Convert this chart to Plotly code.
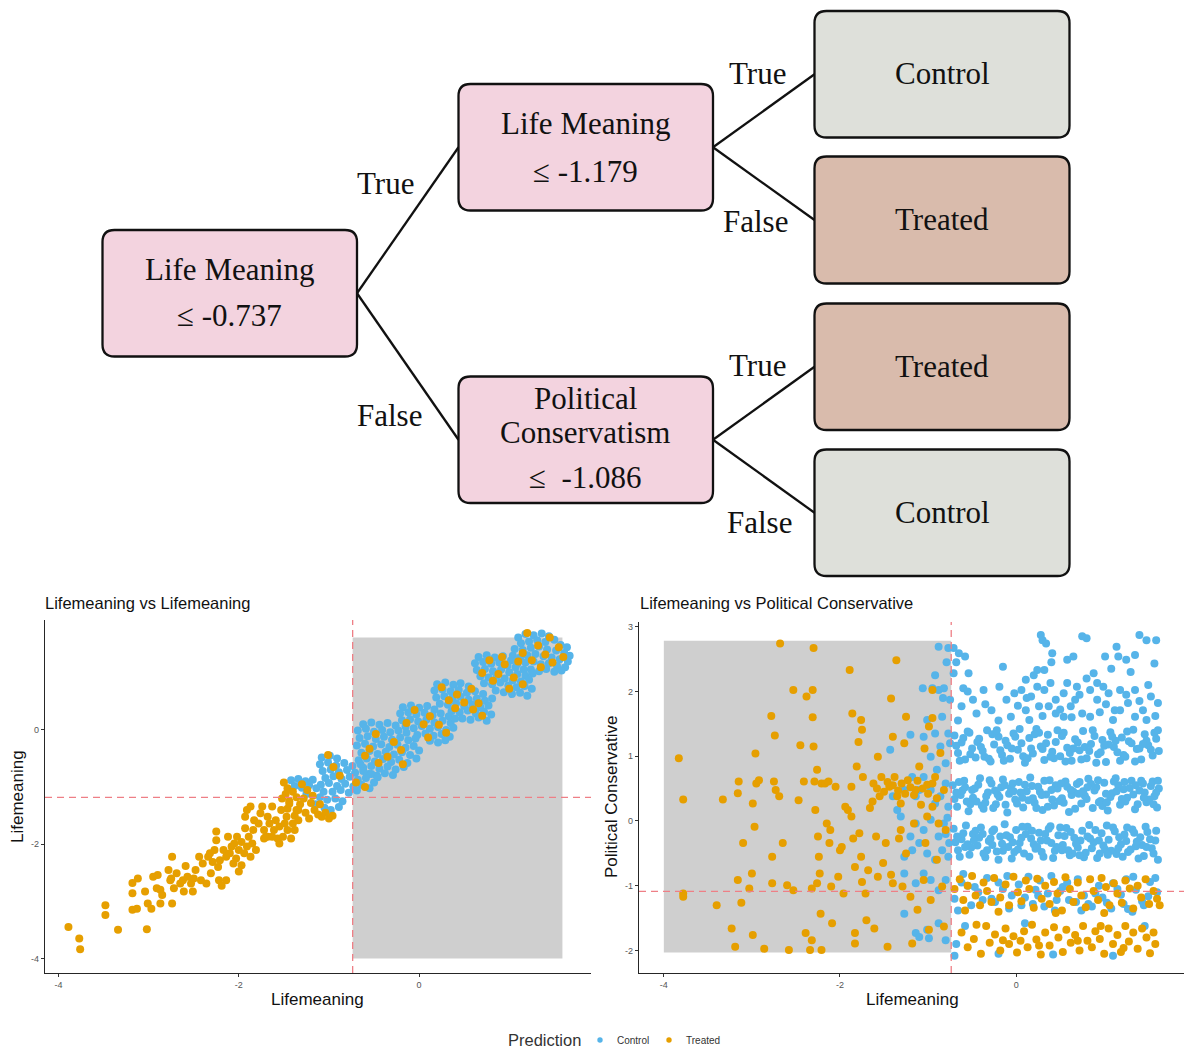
import plotly.graph_objects as go

W, H = 1184, 1051

# ---------------------------------------------------------------- tree splits
SPLIT_ROOT = -0.737   # Life Meaning (root)
SPLIT_LM = -1.179     # Life Meaning (True branch)
SPLIT_PC = -1.086     # Political Conservatism (False branch)

# ---------------------------------------------------------------- scatter data
# Lifemeaning (x) vs Lifemeaning (y), predicted Control
LEFT_CONTROL = [
    (1.10, 1.62), (1.18, 1.68), (1.27, 1.66), (1.36, 1.69), (1.44, 1.64), (1.13, 1.52), (1.22, 1.55), (1.31, 1.57),
    (1.40, 1.54), (1.50, 1.58), (1.57, 1.49), (1.64, 1.45), (1.06, 1.42), (1.15, 1.40), (1.24, 1.44), (1.33, 1.46),
    (1.42, 1.41), (1.52, 1.39), (1.61, 1.35), (1.67, 1.30), (1.04, 1.30), (1.12, 1.27), (1.20, 1.31), (1.29, 1.33),
    (1.38, 1.29), (1.47, 1.27), (1.56, 1.24), (1.65, 1.20), (1.09, 1.16), (1.18, 1.18), (1.27, 1.20), (1.35, 1.15),
    (1.44, 1.17), (1.53, 1.12), (1.62, 1.10), (1.24, 1.06), (1.33, 1.03), (1.41, 1.07), (1.50, 1.02), (1.58, 1.04),
    (0.66, 1.28), (0.75, 1.31), (0.84, 1.27), (0.93, 1.29), (1.02, 1.22), (0.62, 1.17), (0.71, 1.19), (0.80, 1.16),
    (0.89, 1.18), (0.98, 1.13), (1.07, 1.10), (1.16, 1.06), (0.64, 1.05), (0.73, 1.07), (0.82, 1.03), (0.91, 1.06),
    (1.00, 1.01), (1.09, 0.98), (1.18, 0.95), (1.26, 0.99), (0.68, 0.94), (0.77, 0.92), (0.86, 0.95), (0.95, 0.90),
    (1.04, 0.87), (1.13, 0.85), (1.22, 0.88), (0.72, 0.82), (0.81, 0.80), (0.90, 0.83), (0.99, 0.78), (1.08, 0.75),
    (1.17, 0.77), (1.25, 0.72), (0.85, 0.69), (0.94, 0.66), (1.03, 0.63), (1.12, 0.65), (1.20, 0.60),
    (0.20, 0.80), (0.29, 0.83), (0.38, 0.79), (0.46, 0.82), (0.55, 0.76), (0.17, 0.69), (0.26, 0.71), (0.35, 0.68),
    (0.44, 0.70), (0.53, 0.65), (0.62, 0.68), (0.71, 0.63), (0.19, 0.57), (0.28, 0.59), (0.37, 0.56), (0.46, 0.58),
    (0.55, 0.53), (0.64, 0.55), (0.73, 0.51), (0.81, 0.55), (0.23, 0.46), (0.32, 0.44), (0.41, 0.47), (0.50, 0.42),
    (0.59, 0.44), (0.68, 0.40), (0.77, 0.43), (0.36, 0.33), (0.45, 0.31), (0.54, 0.34), (0.63, 0.29), (0.72, 0.32),
    (0.80, 0.27), (0.48, 0.20), (0.57, 0.18), (0.66, 0.22), (0.75, 0.16),
    (-0.18, 0.40), (-0.09, 0.43), (0.00, 0.39), (0.09, 0.42), (0.17, 0.36), (-0.21, 0.29), (-0.12, 0.31), (-0.03, 0.27),
    (0.06, 0.30), (0.15, 0.26), (0.24, 0.29), (0.33, 0.24), (-0.19, 0.17), (-0.10, 0.19), (-0.01, 0.15), (0.08, 0.18),
    (0.17, 0.13), (0.26, 0.16), (0.35, 0.12), (0.40, 0.20), (-0.15, 0.06), (-0.06, 0.03), (0.03, 0.07), (0.12, 0.02),
    (0.21, 0.05), (0.30, 0.00), (0.38, 0.04), (-0.02, -0.09), (0.07, -0.06), (0.16, -0.10), (0.25, -0.07), (0.34, -0.12),
    (0.12, -0.19), (0.21, -0.22), (0.29, -0.18),
    (-0.62, 0.10), (-0.53, 0.13), (-0.44, 0.09), (-0.35, 0.12), (-0.26, 0.08), (-0.68, -0.01), (-0.59, 0.02), (-0.50, -0.03),
    (-0.41, 0.00), (-0.32, -0.04), (-0.23, -0.01), (-0.14, -0.05), (-0.66, -0.14), (-0.57, -0.11), (-0.48, -0.16), (-0.39, -0.12),
    (-0.30, -0.17), (-0.21, -0.13), (-0.12, -0.18), (-0.04, -0.15), (-0.69, -0.27), (-0.60, -0.24), (-0.51, -0.29), (-0.42, -0.25),
    (-0.33, -0.30), (-0.24, -0.26), (-0.15, -0.31), (-0.06, -0.28), (0.00, -0.36), (-0.64, -0.40), (-0.55, -0.37), (-0.46, -0.42),
    (-0.37, -0.38), (-0.28, -0.43), (-0.19, -0.39), (-0.10, -0.44), (-0.03, -0.50), (-0.67, -0.53), (-0.58, -0.50), (-0.49, -0.55),
    (-0.40, -0.51), (-0.31, -0.56), (-0.22, -0.52), (-0.13, -0.58), (-0.62, -0.66), (-0.53, -0.63), (-0.44, -0.68), (-0.35, -0.64),
    (-0.26, -0.69), (-0.17, -0.65), (-0.56, -0.77), (-0.47, -0.80), (-0.38, -0.76), (-0.29, -0.79),
    (-1.08, -0.48), (-0.99, -0.45), (-0.91, -0.50), (-1.10, -0.60), (-1.01, -0.57), (-0.92, -0.62), (-0.83, -0.58), (-0.74, -0.63),
    (-0.65, -0.60), (-1.07, -0.72), (-0.98, -0.69), (-0.89, -0.74), (-0.80, -0.70), (-0.71, -0.75), (-0.62, -0.72), (-0.53, -0.77),
    (-0.46, -0.83), (-1.04, -0.84), (-0.95, -0.81), (-0.86, -0.86), (-0.77, -0.82), (-0.68, -0.87), (-0.59, -0.84), (-0.50, -0.92),
    (-1.09, -0.96), (-1.00, -0.93), (-0.91, -0.98), (-0.82, -0.94), (-0.73, -0.99), (-0.64, -0.96), (-0.55, -1.02), (-0.96, -1.08),
    (-0.87, -1.05), (-0.78, -1.10), (-0.69, -1.06), (-0.93, -1.20), (-0.85, -1.25), (-0.89, -1.35),
    (-1.42, -0.88), (-1.34, -0.86), (-1.26, -0.90), (-1.18, -0.87), (-1.38, -0.98), (-1.30, -1.01), (-1.22, -0.97), (-1.14, -1.02),
    (-1.06, -1.08), (-1.10, -1.18), (-1.02, -1.22), (-1.15, -1.30), (-1.05, -1.36), (-0.98, -1.40), (-1.25, -1.12),
]

# Lifemeaning (x) vs Lifemeaning (y), predicted Treated
LEFT_TREATED = [
    (1.20, 1.70), (1.45, 1.62), (1.32, 1.48), (1.55, 1.45), (1.40, 1.32), (1.25, 1.22), (1.48, 1.18), (1.35, 1.10),
    (1.60, 1.28), (1.15, 1.35), (0.78, 1.22), (0.95, 1.15), (1.10, 1.20), (0.70, 1.00), (0.88, 0.98), (1.05, 0.92),
    (0.82, 0.86), (1.00, 0.72), (1.15, 0.80), (0.92, 1.28), (0.25, 0.75), (0.42, 0.62), (0.58, 0.72), (0.33, 0.52),
    (0.50, 0.48), (0.66, 0.47), (0.40, 0.38), (0.60, 0.36), (0.70, 0.25), (-0.05, 0.35), (0.12, 0.24), (-0.14, 0.12),
    (0.05, 0.10), (0.22, 0.09), (0.30, -0.05), (0.10, -0.13), (-0.48, -0.07), (-0.28, -0.21), (-0.55, -0.33), (-0.35, -0.47),
    (-0.18, -0.60), (-0.45, -0.58), (-0.60, -0.45), (-0.20, -0.35), (-1.01, -0.44), (-0.88, -0.80), (-0.70, -0.92), (-0.95, -0.65),
    (-0.60, -1.00),
    (-1.50, -0.92), (-1.46, -1.02), (-1.48, -1.12), (-1.40, -1.08), (-1.36, -1.18), (-1.44, -1.25), (-1.32, -1.30), (-1.28, -1.20),
    (-1.24, -1.05), (-1.20, -1.28), (-1.16, -1.40), (-1.12, -1.48), (-1.08, -1.52), (-1.00, -1.55), (-0.96, -1.50), (-1.04, -1.45),
    (-1.18, -1.15), (-1.34, -1.40), (-1.26, -1.45), (-1.38, -1.50), (-1.46, -1.38), (-1.30, -0.95), (-1.52, -1.20), (-1.22, -1.55),
    (-1.10, -1.30),
    (-3.89, -3.45), (-3.77, -3.65), (-3.76, -3.84), (-3.48, -3.07), (-3.48, -3.24), (-3.34, -3.50), (-3.18, -2.68), (-3.18, -2.86),
    (-3.18, -3.15), (-3.12, -2.60), (-3.13, -3.13), (-3.04, -2.83), (-3.02, -3.49), (-3.01, -3.04), (-2.97, -3.13), (-2.95, -2.57),
    (-2.91, -2.77), (-2.90, -2.54), (-2.87, -2.80), (-2.87, -3.04), (-2.78, -2.45), (-2.76, -2.63), (-2.74, -2.22), (-2.74, -3.04),
    (-2.72, -2.77), (-2.69, -2.51), (-2.65, -2.69), (-2.62, -2.63), (-2.61, -2.83), (-2.59, -2.38), (-2.57, -2.57), (-2.53, -2.69),
    (-2.50, -2.60), (-2.48, -2.45), (-2.44, -2.22), (-2.42, -2.63), (-2.40, -2.34), (-2.36, -2.69), (-2.34, -2.22), (-2.32, -2.16),
    (-2.31, -2.51), (-2.29, -2.31), (-2.27, -2.10), (-2.25, -1.78), (-2.25, -1.93), (-2.23, -2.40), (-2.22, -2.63), (-2.21, -2.28),
    (-2.19, -2.73), (-2.17, -2.10), (-2.14, -2.22), (-2.12, -1.87), (-2.10, -2.16), (-2.08, -2.04), (-2.06, -2.34), (-2.05, -1.99),
    (-2.03, -2.25), (-2.02, -1.87), (-2.00, -2.10), (-1.97, -2.37), (-1.97, -1.96), (-1.94, -2.16), (-1.93, -1.72), (-1.91, -2.04),
    (-1.89, -1.87), (-1.87, -2.22), (-1.85, -1.99), (-1.84, -1.75), (-1.83, -1.58), (-1.81, -2.10), (-1.93, -1.52), (-1.91, -1.40),
    (-1.87, -1.34), (-1.78, -1.64), (-1.76, -1.46), (-1.72, -1.75), (-1.70, -1.87), (-1.68, -1.52), (-1.66, -1.64), (-1.63, -1.34),
    (-1.61, -1.75), (-1.59, -1.58), (-1.57, -1.90), (-1.55, -1.69), (-1.53, -1.40), (-1.51, -1.87), (-1.49, -1.64), (-1.47, -1.52),
    (-1.46, -1.75), (-1.44, -1.29), (-1.42, -1.90), (-1.40, -1.64), (-1.38, -1.75), (-1.36, -1.40), (-1.34, -1.58), (-1.68, -1.87),
    (-1.74, -1.34), (-2.14, -2.63), (-2.00, -2.48), (-2.51, -2.83), (-2.75, -2.60), (-2.85, -2.89), (-1.72, -1.90), (-1.63, -1.87),
    (-1.55, -1.99),
]

# Lifemeaning (x) vs Political Conservative (y), predicted Control
RIGHT_CONTROL = [
    (-0.71, 2.67), (-0.65, 2.59), (-0.58, 2.54), (-0.54, 2.28), (-0.15, 2.38), (0.28, 2.87), (0.30, 2.79), (0.34, 2.74),
    (0.41, 2.59), (0.75, 2.85), (0.80, 2.82), (0.58, 2.49), (0.65, 2.54), (0.88, 2.28), (1.01, 2.54), (1.14, 2.69),
    (1.16, 2.54), (1.25, 2.49), (1.40, 2.87), (1.48, 2.79), (1.57, 2.43), (1.59, 2.79), (1.35, 2.56), (0.32, 2.33),
    (0.24, 2.33), (0.11, 2.18), (-0.19, 2.07), (-0.37, 2.02), (-0.49, 1.87), (-0.62, 1.77), (-0.71, 2.28), (-0.68, 2.45),
    (-0.60, 2.05), (-0.66, 1.55),
    (-0.02, 1.97), (0.06, 2.02), (0.17, 1.92), (0.24, 2.07), (0.32, 2.02), (0.39, 2.13), (0.45, 1.87), (0.54, 1.97),
    (0.62, 1.77), (0.69, 2.07), (0.75, 1.66), (0.84, 2.02), (0.92, 1.87), (0.99, 2.07), (1.05, 1.97), (1.12, 1.71),
    (1.18, 2.02), (1.27, 1.82), (1.35, 2.02), (1.44, 1.71), (1.53, 1.92), (1.61, 1.82), (0.26, 1.77), (0.11, 1.71),
    (-0.11, 1.87), (-0.28, 1.71), (-0.45, 1.66), (0.54, 1.61), (0.84, 1.61), (1.10, 1.56), (1.48, 1.56), (1.35, 1.61),
    (0.58, 2.13), (0.92, 2.13), (-0.06, 1.61), (0.45, 1.66), (0.37, 1.77), (0.15, 1.56), (0.67, 1.87), (1.18, 1.71),
    (0.02, 1.78), (0.20, 2.25), (0.50, 1.72), (0.72, 1.95), (0.95, 1.68), (1.02, 1.80), (1.25, 1.95), (1.40, 1.85),
    (1.58, 1.62), (0.12, 1.90), (0.80, 2.20), (1.30, 2.30), (-0.35, 1.80), (-0.55, 2.00), (0.40, 2.45), (1.50, 2.10),
    (0.63, 1.60), (0.30, 1.62), (1.08, 2.35), (-0.20, 1.55),
    (-0.70, 1.32), (-0.66, 1.05), (-0.62, 1.21), (-0.58, 0.95), (-0.55, 1.38), (-0.50, 1.12), (-0.46, 0.98), (-0.42, 1.27),
    (-0.38, 1.08), (-0.33, 1.40), (-0.29, 0.92), (-0.25, 1.18), (-0.20, 1.30), (-0.16, 1.02), (-0.12, 1.24), (-0.07, 0.96),
    (-0.03, 1.35), (0.02, 1.10), (0.06, 1.20), (0.10, 0.90), (0.15, 1.28), (0.19, 1.04), (0.23, 1.42), (0.28, 1.15),
    (0.32, 0.94), (0.36, 1.33), (0.41, 1.07), (0.45, 1.22), (0.50, 1.00), (0.54, 1.36), (0.58, 1.13), (0.63, 0.93),
    (0.67, 1.26), (0.72, 1.09), (0.76, 1.39), (0.80, 0.97), (0.85, 1.19), (0.89, 1.31), (0.93, 1.03), (0.98, 1.25),
    (1.02, 0.91), (1.07, 1.37), (1.11, 1.14), (1.15, 1.06), (1.20, 1.29), (1.24, 0.99), (1.28, 1.23), (1.33, 1.41),
    (1.37, 1.11), (1.42, 0.95), (1.46, 1.34), (1.50, 1.17), (1.55, 1.01), (1.59, 1.27), (1.62, 1.08),
    (-0.68, 1.16), (-0.60, 1.28), (-0.52, 1.03), (-0.44, 1.22), (-0.36, 0.99), (-0.27, 1.34), (-0.18, 1.09), (-0.10, 1.17),
    (-0.01, 1.30), (0.08, 1.00), (0.17, 1.12), (0.26, 1.36), (0.34, 1.20), (0.43, 0.97), (0.52, 1.31), (0.61, 1.05),
    (0.70, 1.21), (0.78, 1.14), (0.87, 1.40), (0.96, 1.06), (1.05, 1.18), (1.13, 1.24), (1.22, 1.02), (1.31, 1.20),
    (1.40, 1.12), (1.48, 1.24), (1.57, 1.36),
    (-0.64, 0.93), (-0.53, 1.36), (-0.40, 1.14), (-0.31, 0.96), (-0.22, 1.40), (-0.14, 0.93), (-0.05, 1.12), (0.04, 1.42),
    (0.13, 0.97), (0.21, 1.34), (0.30, 1.11), (0.39, 0.99), (0.47, 1.40), (0.56, 0.92), (0.65, 1.12), (0.74, 0.95),
    (0.83, 1.08), (0.91, 0.90), (1.00, 1.16), (1.09, 1.30), (1.18, 0.93), (1.26, 1.38), (1.35, 0.92), (1.44, 1.19),
    (1.53, 1.10), (1.61, 1.40),
    (-0.72, 0.55), (-0.67, 0.22), (-0.63, 0.40), (-0.59, 0.62), (-0.54, 0.15), (-0.50, 0.48), (-0.45, 0.30), (-0.41, 0.66),
    (-0.37, 0.19), (-0.32, 0.44), (-0.28, 0.58), (-0.23, 0.26), (-0.19, 0.37), (-0.15, 0.64), (-0.10, 0.13), (-0.06, 0.51),
    (-0.01, 0.33), (0.03, 0.60), (0.08, 0.21), (0.12, 0.46), (0.16, 0.67), (0.21, 0.28), (0.25, 0.53), (0.30, 0.17),
    (0.34, 0.41), (0.38, 0.63), (0.43, 0.24), (0.47, 0.50), (0.52, 0.35), (0.56, 0.61), (0.60, 0.14), (0.65, 0.45),
    (0.69, 0.57), (0.74, 0.27), (0.78, 0.39), (0.82, 0.65), (0.87, 0.20), (0.91, 0.52), (0.96, 0.31), (1.00, 0.59),
    (1.04, 0.16), (1.09, 0.43), (1.13, 0.66), (1.18, 0.25), (1.22, 0.49), (1.26, 0.36), (1.31, 0.62), (1.35, 0.18),
    (1.40, 0.47), (1.44, 0.58), (1.48, 0.29), (1.53, 0.54), (1.57, 0.38), (1.60, 0.21), (1.62, 0.50),
    (-0.70, 0.34), (-0.61, 0.47), (-0.52, 0.26), (-0.43, 0.56), (-0.34, 0.38), (-0.26, 0.20), (-0.17, 0.52), (-0.08, 0.42),
    (0.01, 0.27), (0.10, 0.56), (0.19, 0.35), (0.27, 0.45), (0.36, 0.22), (0.45, 0.55), (0.54, 0.28), (0.63, 0.40),
    (0.72, 0.60), (0.80, 0.34), (0.89, 0.47), (0.98, 0.23), (1.07, 0.37), (1.16, 0.55), (1.24, 0.30), (1.33, 0.41),
    (1.42, 0.62), (1.51, 0.33), (1.59, 0.44),
    (-0.65, 0.60), (-0.56, 0.30), (-0.47, 0.50), (-0.39, 0.24), (-0.30, 0.63), (-0.21, 0.41), (-0.12, 0.25), (-0.04, 0.58),
    (0.05, 0.44), (0.14, 0.32), (0.23, 0.20), (0.32, 0.62), (0.40, 0.48), (0.49, 0.31), (0.58, 0.53), (0.67, 0.19),
    (0.76, 0.46), (0.85, 0.57), (0.94, 0.29), (1.02, 0.42), (1.11, 0.61), (1.20, 0.34), (1.29, 0.51), (1.38, 0.26),
    (1.46, 0.44), (1.55, 0.61),
    (-0.68, 0.44), (-0.58, 0.52), (-0.49, 0.36), (-0.35, 0.28), (-0.24, 0.47), (-0.13, 0.55), (-0.03, 0.46), (0.07, 0.36),
    (0.18, 0.54), (0.29, 0.40), (0.41, 0.33), (0.51, 0.58), (0.62, 0.48), (0.71, 0.42), (0.81, 0.52), (0.93, 0.63),
    (1.03, 0.29), (1.14, 0.46), (1.23, 0.60), (1.36, 0.55), (1.45, 0.36), (1.56, 0.26), (1.61, 0.62),
    (-0.71, -0.12), (-0.66, -0.45), (-0.62, -0.28), (-0.57, -0.07), (-0.53, -0.52), (-0.49, -0.20), (-0.44, -0.38), (-0.40, -0.10),
    (-0.35, -0.56), (-0.31, -0.31), (-0.27, -0.16), (-0.22, -0.47), (-0.18, -0.24), (-0.13, -0.05), (-0.09, -0.40), (-0.05, -0.58),
    (0.00, -0.14), (0.04, -0.34), (0.09, -0.50), (0.13, -0.09), (0.17, -0.27), (0.22, -0.43), (0.26, -0.18), (0.31, -0.55),
    (0.35, -0.30), (0.39, -0.08), (0.44, -0.46), (0.48, -0.22), (0.53, -0.37), (0.57, -0.11), (0.61, -0.53), (0.66, -0.26),
    (0.70, -0.41), (0.75, -0.15), (0.79, -0.49), (0.83, -0.06), (0.88, -0.33), (0.92, -0.57), (0.97, -0.19), (1.01, -0.44),
    (1.05, -0.29), (1.10, -0.10), (1.14, -0.51), (1.19, -0.36), (1.23, -0.21), (1.27, -0.48), (1.32, -0.13), (1.36, -0.39),
    (1.41, -0.25), (1.45, -0.54), (1.49, -0.17), (1.54, -0.42), (1.58, -0.30), (1.61, -0.60),
    (-0.69, -0.33), (-0.60, -0.19), (-0.51, -0.41), (-0.42, -0.26), (-0.33, -0.45), (-0.25, -0.13), (-0.16, -0.35), (-0.07, -0.25),
    (0.02, -0.44), (0.11, -0.20), (0.20, -0.36), (0.28, -0.30), (0.37, -0.12), (0.46, -0.40), (0.55, -0.23), (0.64, -0.50),
    (0.73, -0.30), (0.81, -0.24), (0.90, -0.14), (0.99, -0.38), (1.08, -0.46), (1.17, -0.25), (1.25, -0.31), (1.34, -0.18),
    (1.43, -0.37), (1.52, -0.28),
    (-0.64, -0.55), (-0.55, -0.36), (-0.46, -0.15), (-0.37, -0.50), (-0.29, -0.27), (-0.20, -0.60), (-0.11, -0.22), (-0.02, -0.48),
    (0.07, -0.09), (0.15, -0.55), (0.24, -0.40), (0.33, -0.20), (0.42, -0.57), (0.50, -0.10), (0.59, -0.45), (0.68, -0.35),
    (0.77, -0.56), (0.86, -0.42), (0.95, -0.50), (1.03, -0.07), (1.12, -0.16), (1.21, -0.55), (1.30, -0.44), (1.39, -0.58),
    (1.47, -0.09), (1.56, -0.50),
    (-0.67, -0.24), (-0.58, -0.40), (-0.48, -0.30), (-0.38, -0.20), (-0.27, -0.37), (-0.15, -0.46), (-0.04, -0.33), (0.06, -0.26),
    (0.18, -0.15), (0.29, -0.48), (0.40, -0.34), (0.52, -0.45), (0.62, -0.17), (0.72, -0.53), (0.84, -0.27), (0.94, -0.30),
    (1.04, -0.52), (1.16, -0.42), (1.26, -0.10), (1.37, -0.32), (1.48, -0.40), (1.59, -0.15),
    (-0.70, -1.20), (-0.62, -0.95), (-0.51, -1.30), (-0.43, -1.10), (-0.33, -0.88), (-0.24, -1.25), (-0.15, -1.05), (-0.08, -1.35),
    (0.03, -0.98), (0.10, -1.18), (0.19, -1.28), (0.27, -0.92), (0.36, -1.12), (0.44, -1.38), (0.53, -1.02), (0.60, -1.22),
    (0.70, -0.90), (0.77, -1.15), (0.86, -1.32), (0.94, -1.00), (1.03, -1.26), (1.10, -0.96), (1.19, -1.14), (1.27, -1.36),
    (1.36, -1.06), (1.43, -1.24), (1.52, -0.94), (1.60, -1.10), (-0.66, -1.38), (-0.47, -1.02), (-0.28, -1.20), (-0.05, -1.15),
    (0.14, -0.86), (0.32, -1.32), (0.50, -1.08), (0.68, -1.25), (0.90, -1.12), (1.08, -1.35), (1.25, -0.90), (1.45, -1.30),
    (-0.55, -1.00), (0.22, -1.06), (0.82, -1.28), (1.32, -1.40),
    (-0.60, -0.82), (-0.38, -1.22), (-0.20, -0.95), (0.06, -1.30), (0.25, -1.15), (0.40, -0.85), (0.58, -0.95), (0.74, -1.38),
    (0.98, -1.18), (1.15, -1.05), (1.33, -0.86), (1.50, -1.16), (-0.10, -0.85), (0.46, -1.22), (1.22, -1.28), (1.58, -0.88),
    (-0.70, -2.08), (-0.58, -1.62), (-0.20, -2.05), (0.42, -2.06), (1.10, -2.08), (-0.68, -1.90), (1.46, -1.62), (0.10, -1.58),
    (-1.20, 1.33), (-1.43, 1.10), (-1.05, 1.30), (-1.06, 2.05), (-0.95, 2.05), (-0.88, 2.02), (-0.82, 2.05), (-0.92, 2.25),
    (-0.88, 2.69), (-0.77, 2.67), (-1.01, 1.56), (-0.92, 1.35), (-0.86, 1.15), (-0.80, 0.89), (-0.77, 1.35), (-0.84, 1.61),
    (-0.97, 0.99), (-0.90, 0.79), (-1.27, 0.48), (-1.18, 0.68), (-1.35, 0.17), (-1.14, 0.38), (-1.10, 0.48), (-1.05, 0.68),
    (-0.97, 0.48), (-0.92, 0.27), (-0.86, 0.38), (-0.80, 0.58), (-0.77, 0.22), (-1.14, -0.04), (-1.05, -0.14), (-0.97, 0.02),
    (-0.88, -0.24), (-0.82, -0.04), (-0.76, -0.34), (-1.27, -0.55), (-1.18, -0.45), (-1.10, -0.34), (-1.01, -0.50), (-0.92, -0.60),
    (-0.84, -0.45), (-0.77, -0.55), (-1.27, -0.81), (-1.14, -0.96), (-1.05, -0.81), (-0.97, -0.91), (-0.88, -1.07), (-0.80, -0.91),
    (-1.27, -1.43), (-1.14, -1.73), (-1.10, -1.79), (-1.01, -1.68), (-0.99, -1.81), (-0.88, -1.58), (-0.80, -1.84), (-1.40, 0.38),
    (-1.31, 0.07), (-1.20, -0.24), (-0.75, 1.87), (-0.75, 1.20), (-0.79, 2.45), (-0.83, 1.90), (-0.78, 0.05), (-0.80, -0.20),
]

# Lifemeaning (x) vs Political Conservative (y), predicted Treated
RIGHT_TREATED = [
    (-3.83, 0.97), (-3.78, 0.33), (-3.78, -1.12), (-3.78, -1.17), (-3.40, -1.30), (-3.33, 0.33), (-3.23, -1.66), (-3.19, -1.94),
    (-3.16, -0.91), (-3.15, 0.61), (-3.16, 0.43), (-3.12, -1.26), (-3.10, -0.34), (-3.03, -1.04), (-3.00, -0.81), (-2.99, -1.76),
    (-2.99, 0.27), (-2.96, 1.04), (-2.97, -0.09), (-2.95, 0.58), (-2.92, 0.63), (-2.86, -1.97), (-2.78, 1.62), (-2.74, 1.32),
    (-2.77, -0.55), (-2.77, -0.96), (-2.75, 0.61), (-2.73, 0.48), (-2.69, 0.38), (-2.68, 2.74), (-2.65, -0.34), (-2.60, -0.99),
    (-2.58, -1.99), (-2.53, 2.02), (-2.53, -1.07), (-2.47, 0.32), (-2.45, 1.17), (-2.41, 0.61), (-2.39, -1.73), (-2.38, 1.92),
    (-2.34, -1.99), (-2.32, -1.84), (-2.32, -1.04), (-2.31, 2.02), (-2.31, 1.60), (-2.30, 2.67), (-2.30, 1.15), (-2.29, 0.61),
    (-2.28, 0.17), (-2.26, 0.79), (-2.25, -0.24), (-2.24, -0.55), (-2.23, -0.81), (-2.22, -1.43), (-2.21, -1.99), (-2.26, -0.96),
    (-2.21, 0.58), (-2.17, 0.58), (-2.15, -0.04), (-2.13, 0.61), (-2.11, -0.14), (-2.12, -0.34), (-2.10, -1.01), (-2.09, -1.58),
    (-2.05, 0.53), (-2.02, -0.86), (-2.00, -0.45), (-1.98, -0.40), (-1.96, -1.12), (-1.94, 0.22), (-1.91, 0.17), (-1.89, 2.33),
    (-1.87, 0.53), (-1.87, 0.07), (-1.86, 1.66), (-1.85, -0.27), (-1.83, -0.71), (-1.83, -1.73), (-1.83, -1.89), (-1.81, 0.84),
    (-1.79, 1.22), (-1.78, -0.19), (-1.76, -0.55), (-1.75, -0.94), (-1.74, 0.68), (-1.76, 1.56), (-1.75, 1.41), (-1.71, -1.12),
    (-1.70, -1.53), (-1.68, -0.76), (-1.66, 0.20), (-1.63, 0.30), (-1.61, -1.66), (-1.59, -0.24), (-1.57, 0.99), (-1.57, -0.86),
    (-1.55, 0.38), (-1.53, 0.68), (-1.51, -0.65), (-1.48, -0.34), (-1.46, -1.94), (-1.44, 0.53), (-1.42, -0.83), (-1.42, 1.89),
    (-1.40, 1.30), (-1.40, -0.96), (-1.38, 0.68), (-1.36, 2.48), (-1.35, 0.38), (-1.33, -0.27), (-1.31, -0.14), (-1.31, 0.27),
    (-1.29, -1.01), (-1.27, 1.20), (-1.25, 1.61), (-1.25, -0.50), (-1.23, 0.63), (-1.20, -1.17), (-1.18, -1.89), (-1.16, -0.04),
    (-1.14, 0.48), (-1.12, -1.37), (-1.10, 0.84), (-1.08, 0.25), (-1.05, -0.91), (-1.04, 1.12), (-1.03, -0.34), (-1.01, 0.07),
    (-1.01, 0.56), (-0.99, 1.46), (-0.99, -1.68), (-0.97, -1.22), (-0.95, 1.59), (-0.95, 2.02), (-0.95, 0.22), (-0.92, 0.68),
    (-0.90, -0.60), (-0.88, -0.04), (-0.86, 1.05), (-0.84, -1.01), (-0.82, 0.48), (-0.82, -1.63), (-0.80, -0.14),
    (-1.62, 0.58), (-1.58, 0.50), (-1.50, 0.45), (-1.46, 0.60), (-1.40, 0.55), (-1.34, 0.47), (-1.30, 0.58), (-1.26, 0.42),
    (-1.20, 0.52), (-1.16, 0.40), (-1.12, 0.62), (-1.06, 0.50), (-1.00, 0.42), (-0.95, 0.58), (-0.90, 0.35),
    (-0.70, -1.05), (-0.64, -0.90), (-0.60, -1.22), (-0.55, -1.00), (-0.50, -0.85), (-0.46, -1.15), (-0.41, -1.30), (-0.37, -0.95),
    (-0.33, -1.08), (-0.28, -1.25), (-0.25, -0.88), (-0.18, -1.18), (-0.12, -0.98), (-0.08, -1.30), (-0.03, -0.86), (0.02, -1.10),
    (0.06, -1.24), (0.11, -0.92), (0.15, -1.05), (0.20, -1.34), (0.24, -0.89), (0.29, -1.20), (0.33, -1.00), (0.38, -1.28),
    (0.43, -0.94), (0.47, -1.12), (0.52, -1.38), (0.56, -0.87), (0.61, -1.05), (0.65, -1.25), (0.70, -0.95), (0.74, -1.15),
    (0.79, -1.33), (0.84, -0.90), (0.88, -1.08), (0.93, -1.22), (0.97, -0.88), (1.02, -1.02), (1.06, -1.30), (1.11, -0.96),
    (1.15, -1.12), (1.20, -1.26), (1.24, -0.92), (1.29, -1.04), (1.33, -1.35), (1.38, -1.00), (1.42, -1.18), (1.47, -0.90),
    (1.51, -1.28), (1.56, -1.08), (1.60, -1.20), (1.63, -1.30), (-0.20, -1.40), (0.45, -1.42), (1.00, -1.42), (-0.58, -1.38),
    (-0.62, -1.72), (-0.55, -1.95), (-0.48, -1.82), (-0.40, -2.05), (-0.34, -1.62), (-0.30, -1.88), (-0.24, -1.75), (-0.18, -2.00),
    (-0.12, -1.66), (-0.08, -1.90), (-0.03, -1.78), (0.01, -2.03), (0.05, -1.85), (0.09, -1.70), (0.13, -1.95), (0.18, -1.60),
    (0.23, -1.83), (0.28, -2.06), (0.33, -1.72), (0.38, -1.92), (0.43, -1.64), (0.48, -1.80), (0.53, -2.02), (0.57, -1.68),
    (0.62, -1.88), (0.67, -1.76), (0.72, -2.00), (0.76, -1.62), (0.81, -1.85), (0.86, -1.95), (0.90, -1.70), (0.95, -1.82),
    (1.00, -2.05), (1.05, -1.66), (1.10, -1.90), (1.15, -1.76), (1.19, -2.02), (1.24, -1.62), (1.28, -1.86), (1.33, -1.72),
    (1.38, -1.97), (1.43, -1.66), (1.48, -1.80), (1.52, -2.04), (1.56, -1.72), (1.58, -1.90), (-0.45, -1.60), (0.26, -1.92),
    (0.70, -1.85), (1.22, -1.96), (-0.15, -1.84), (0.96, -1.62),
]

# extent of the shaded leaf regions
LEFT_SHADE = (SPLIT_ROOT, 1.59, -4.0, 1.62)     # x0, x1, y0, y1
RIGHT_SHADE = (-4.0, SPLIT_ROOT, -2.03, 2.78)

TICKS_X = [-4, -2, 0]
TICKS_Y_LEFT = [-4, -2, 0]
TICKS_Y_RIGHT = [-2, -1, 0, 1, 2, 3]

BLUE = "#56B4E9"
ORANGE = "#E69F00"
NODE_FILL = "#F3D3DF"
CONTROL_FILL = "#DEE0DA"
TREATED_FILL = "#D9BBAC"
SHADE = "#CFCFCF"
CUT = "#EE7F86"

SANS = "Liberation Sans, Arial, Helvetica, sans-serif"
SERIF = "Liberation Serif, Times New Roman, serif"


def px(v):
    return v / W


def py(v):
    return 1 - v / H


def split(pts):
    return [p[0] for p in pts], [p[1] for p in pts]


fig = go.Figure()

for pts, color, xa, ya in [
    (LEFT_CONTROL, BLUE, "x", "y"),
    (LEFT_TREATED, ORANGE, "x", "y"),
    (RIGHT_CONTROL, BLUE, "x2", "y2"),
    (RIGHT_TREATED, ORANGE, "x2", "y2"),
]:
    xs, ys = split(pts)
    fig.add_trace(go.Scatter(
        x=xs, y=ys, mode="markers", xaxis=xa, yaxis=ya,
        marker=dict(color=color, size=8, line=dict(width=0)),
        hoverinfo="skip", showlegend=False,
    ))

axis_style = dict(
    showgrid=False, zeroline=False, showline=True, linecolor="#262626", linewidth=1.3,
    ticks="outside", ticklen=3, tickwidth=1, tickcolor="#333333",
    tickfont=dict(family=SANS, size=9, color="#555555"), fixedrange=True,
)


def ticks(vals):
    return dict(tickmode="array", tickvals=vals, ticktext=[str(v) for v in vals])


fig.update_layout(
    width=W, height=H, margin=dict(l=0, r=0, t=0, b=0),
    paper_bgcolor="white", plot_bgcolor="rgba(0,0,0,0)", showlegend=False,
    font=dict(family=SANS),
    xaxis=dict(domain=[px(45), px(591)], range=[-4.150, 1.907], anchor="y", **ticks(TICKS_X), **axis_style),
    yaxis=dict(domain=[py(973), py(620)], range=[-4.256, 1.926], anchor="x", **ticks(TICKS_Y_LEFT), **axis_style),
    xaxis2=dict(domain=[px(639), 1.0], range=[-4.282, 1.906], anchor="y2", **ticks(TICKS_X), **axis_style),
    yaxis2=dict(domain=[py(973), py(622)], range=[-2.346, 3.071], anchor="x2", **ticks(TICKS_Y_RIGHT), **axis_style),
)

shapes = []

# shaded leaf regions
for (x0, x1, y0, y1), xr, yr in [(LEFT_SHADE, "x", "y"), (RIGHT_SHADE, "x2", "y2")]:
    shapes.append(dict(type="rect", xref=xr, yref=yr, x0=x0, x1=x1, y0=y0, y1=y1,
                       fillcolor=SHADE, line=dict(width=0), layer="below"))

# split thresholds
cut_line = dict(color=CUT, width=1.3, dash="7px,5px")
shapes += [
    dict(type="line", xref="x", yref="y domain", x0=SPLIT_ROOT, x1=SPLIT_ROOT, y0=0, y1=1, line=cut_line),
    dict(type="line", xref="x domain", yref="y", x0=0, x1=1, y0=SPLIT_LM, y1=SPLIT_LM, line=cut_line),
    dict(type="line", xref="x2", yref="y2 domain", x0=SPLIT_ROOT, x1=SPLIT_ROOT, y0=0, y1=1, line=cut_line),
    dict(type="line", xref="x2 domain", yref="y2", x0=0, x1=1, y0=SPLIT_PC, y1=SPLIT_PC, line=cut_line),
]

# ---------------------------------------------------------------- tree diagram
ROOT = (102.5, 230, 357, 356.5)
NODE_LM = (458.5, 84, 713, 210.5)
NODE_PC = (458.5, 376.5, 713, 503)
LEAVES = [
    ((814.5, 11, 1069.5, 137.5), CONTROL_FILL, "Control"),
    ((814.5, 156.5, 1069.5, 283.5), TREATED_FILL, "Treated"),
    ((814.5, 303.5, 1069.5, 430), TREATED_FILL, "Treated"),
    ((814.5, 449.5, 1069.5, 576), CONTROL_FILL, "Control"),
]


def mid_right(b):
    return b[2], (b[1] + b[3]) / 2


def mid_left(b):
    return b[0], (b[1] + b[3]) / 2


def rounded_box(b, fill, r=12):
    x0, y0, x1, y1 = b
    X = lambda v: f"{px(v):.5f}"
    Y = lambda v: f"{py(v):.5f}"
    path = (
        f"M {X(x0 + r)},{Y(y0)} L {X(x1 - r)},{Y(y0)} Q {X(x1)},{Y(y0)} {X(x1)},{Y(y0 + r)} "
        f"L {X(x1)},{Y(y1 - r)} Q {X(x1)},{Y(y1)} {X(x1 - r)},{Y(y1)} "
        f"L {X(x0 + r)},{Y(y1)} Q {X(x0)},{Y(y1)} {X(x0)},{Y(y1 - r)} "
        f"L {X(x0)},{Y(y0 + r)} Q {X(x0)},{Y(y0)} {X(x0 + r)},{Y(y0)} Z"
    )
    return dict(type="path", xref="paper", yref="paper", path=path, fillcolor=fill,
                line=dict(color="#111111", width=2.3), layer="above")


def edge(a, b):
    return dict(type="line", xref="paper", yref="paper", x0=px(a[0]), y0=py(a[1]),
                x1=px(b[0]), y1=py(b[1]), line=dict(color="#111111", width=2.3), layer="above")


shapes += [
    edge(mid_right(ROOT), mid_left(NODE_LM)),
    edge(mid_right(ROOT), mid_left(NODE_PC)),
    edge(mid_right(NODE_LM), mid_left(LEAVES[0][0])),
    edge(mid_right(NODE_LM), mid_left(LEAVES[1][0])),
    edge(mid_right(NODE_PC), mid_left(LEAVES[2][0])),
    edge(mid_right(NODE_PC), mid_left(LEAVES[3][0])),
]
shapes += [rounded_box(ROOT, NODE_FILL), rounded_box(NODE_LM, NODE_FILL), rounded_box(NODE_PC, NODE_FILL)]
shapes += [rounded_box(b, fill) for b, fill, _ in LEAVES]

# legend keys
for cx, color in [(600, BLUE), (669, ORANGE)]:
    shapes.append(dict(type="circle", xref="paper", yref="paper",
                       x0=px(cx - 2.7), x1=px(cx + 2.7), y0=py(1040 + 2.7), y1=py(1040 - 2.7),
                       fillcolor=color, line=dict(width=0)))

fig.update_layout(shapes=shapes)

annotations = []


def text(x, y, s, size, family=SANS, color="#111111", xanchor="center", textangle=0):
    annotations.append(dict(
        x=px(x), y=py(y), xref="paper", yref="paper", text=s, showarrow=False,
        xanchor=xanchor, yanchor="middle", textangle=textangle,
        font=dict(family=family, size=size, color=color),
    ))


TREE_SIZE = 31
text(229.7, 269, "Life Meaning", TREE_SIZE, SERIF)
text(229.7, 316, f"\u2264 {SPLIT_ROOT}", TREE_SIZE, SERIF)
text(585.7, 123.5, "Life Meaning", TREE_SIZE, SERIF)
text(585.7, 171, f"\u2264 {SPLIT_LM}", TREE_SIZE, SERIF)
text(585.7, 398.5, "Political", TREE_SIZE, SERIF)
text(585.7, 432.5, "Conservatism", TREE_SIZE, SERIF)
text(585.7, 477.5, f"\u2264\u00a0\u00a0{SPLIT_PC}", TREE_SIZE, SERIF)
for b, _, label in LEAVES:
    text((b[0] + b[2]) / 2, (b[1] + b[3]) / 2 - 0.5, label, TREE_SIZE, SERIF)

for x, y, s in [(386, 183, "True"), (389, 415, "False"), (757, 73.5, "True"),
                (755, 221.5, "False"), (757, 365.5, "True"), (759, 522.5, "False")]:
    text(x, y, s, TREE_SIZE, SERIF)

# panel titles and axis titles
text(43, 603, "Lifemeaning vs Lifemeaning", 16.5, xanchor="left")
text(638, 603, "Lifemeaning vs Political Conservative", 16.5, xanchor="left")
text(317, 999, "Lifemeaning", 17)
text(912, 999, "Lifemeaning", 17)
text(17, 797, "Lifemeaning", 17, textangle=-90)
text(611, 797, "Political Conservative", 17, textangle=-90)

# legend
text(583, 1040, "Prediction", 16.5, color="#333333", xanchor="right")
text(615, 1040, "Control", 10, color="#333333", xanchor="left")
text(684, 1040, "Treated", 10, color="#333333", xanchor="left")

fig.update_layout(annotations=annotations)

fig.write_html("out.html")
